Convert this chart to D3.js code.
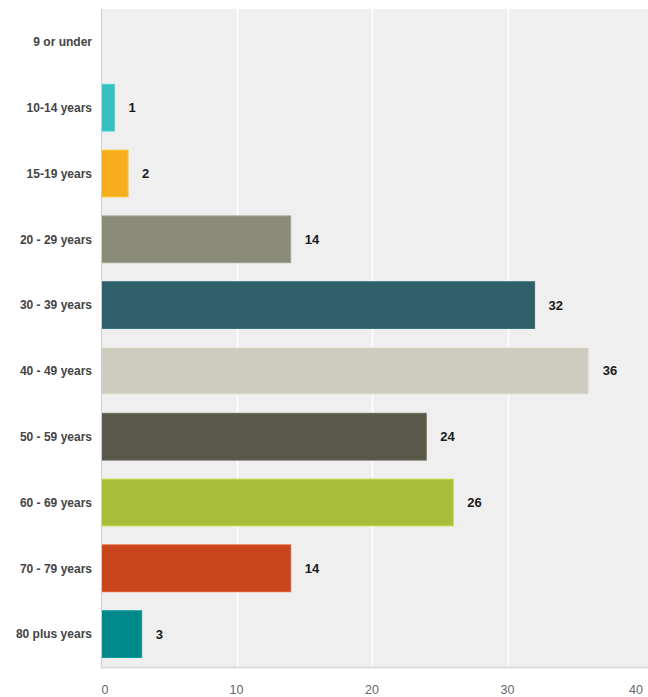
<!DOCTYPE html>
<html>
<head>
<meta charset="utf-8">
<script src="https://cdn.jsdelivr.net/npm/d3@7"></script>
<style>
  body { margin: 0; background: #fff; }
  svg { display: block; font-family: "Liberation Sans", Arial, sans-serif; }
</style>
</head>
<body>
<svg id="chart" width="648" height="697"></svg>
<script>
// dados
var categorias = ["9 or under", "10-14 years", "15-19 years", "20 - 29 years", "30 - 39 years",
                  "40 - 49 years", "50 - 59 years", "60 - 69 years", "70 - 79 years", "80 plus years"];
var valores = [0, 1, 2, 14, 32, 36, 24, 26, 14, 3];
var cores = ["#d0d0d0", "#36bfbf", "#f6ae1f", "#8a8b79", "#2f5f6b",
             "#cfcdc0", "#5a584a", "#a8bd3a", "#c9461d", "#00898b"];
var ticksX = [0, 10, 20, 30, 40];

var svg = d3.select("#chart"),
    margin = {top: 9, right: 0, bottom: 30, left: 101},
    width = +svg.attr("width") - margin.left - margin.right,
    height = +svg.attr("height") - margin.top - margin.bottom,
    g = svg.append("g").attr("transform", "translate(" + margin.left + "," + margin.top + ")");

var x = d3.scaleLinear().domain([0, 40]).range([0, 542]);
var y = d3.scaleBand().domain(categorias).range([0, height]).paddingInner(0.29).paddingOuter(0.145);

var dados = valores.map(function(v, i) { return {v: v, c: categorias[i], cor: cores[i]}; });

// fundo
g.append("rect")
  .attr("width", width)
  .attr("height", height)
  .attr("fill", "#efefef");

// grade
g.selectAll(".grade")
  .data(ticksX.filter(function(d) { return d > 0 && d < 40; }))
  .enter().append("line")
    .attr("x1", function(d) { return Math.round(x(d)) + 0.5; })
    .attr("x2", function(d) { return Math.round(x(d)) + 0.5; })
    .attr("y1", 0)
    .attr("y2", height)
    .attr("stroke", "#ffffff")
    .attr("stroke-width", 1.5);

// barras
g.selectAll(".barra")
  .data(dados.filter(function(d) { return d.v > 0; }))
  .enter().append("rect")
    .attr("class", "barra")
    .attr("x", 0.5)
    .attr("y", function(d) { return y(d.c); })
    .attr("width", function(d) { return x(d.v) - 0.5; })
    .attr("height", y.bandwidth())
    .attr("fill", function(d) { return d.cor; })
    .attr("stroke", function(d) { return d3.color(d.cor).brighter(0.4); })
    .attr("stroke-width", 1);

// rótulos de valor
g.selectAll(".valor")
  .data(dados.filter(function(d) { return d.v > 0; }))
  .enter().append("text")
    .attr("x", function(d) { return x(d.v) + 14; })
    .attr("y", function(d) { return y(d.c) + y.bandwidth() / 2; })
    .attr("dy", "0.35em")
    .attr("font-size", "13px")
    .attr("font-weight", "bold")
    .attr("fill", "#1a1a1a")
    .text(function(d) { return d.v; });

// eixo esquerdo e base
g.append("line")
  .attr("x1", 0.5).attr("x2", 0.5)
  .attr("y1", 0).attr("y2", height)
  .attr("stroke", "#cccccc");

g.append("line")
  .attr("x1", 0).attr("x2", width)
  .attr("y1", height + 0.5).attr("y2", height + 0.5)
  .attr("stroke", "#dcdcdc")
  .attr("stroke-width", 2);

// rótulos das categorias
g.selectAll(".cat")
  .data(categorias)
  .enter().append("text")
    .attr("x", -9)
    .attr("y", function(d) { return y(d) + y.bandwidth() / 2; })
    .attr("dy", "0.35em")
    .attr("text-anchor", "end")
    .attr("font-size", "12px")
    .attr("font-weight", "bold")
    .attr("fill", "#444444")
    .text(function(d) { return d; });

// rótulos do eixo x
g.selectAll(".tick")
  .data(ticksX)
  .enter().append("text")
    .attr("x", function(d) { return d === 0 ? x(d) + 4 : x(d); })
    .attr("y", height + 27)
    .attr("text-anchor", function(d) { return d === 40 ? "end" : "middle"; })
    .attr("font-size", "12.5px")
    .attr("fill", "#666666")
    .text(function(d) { return d; });
</script>
</body>
</html>
